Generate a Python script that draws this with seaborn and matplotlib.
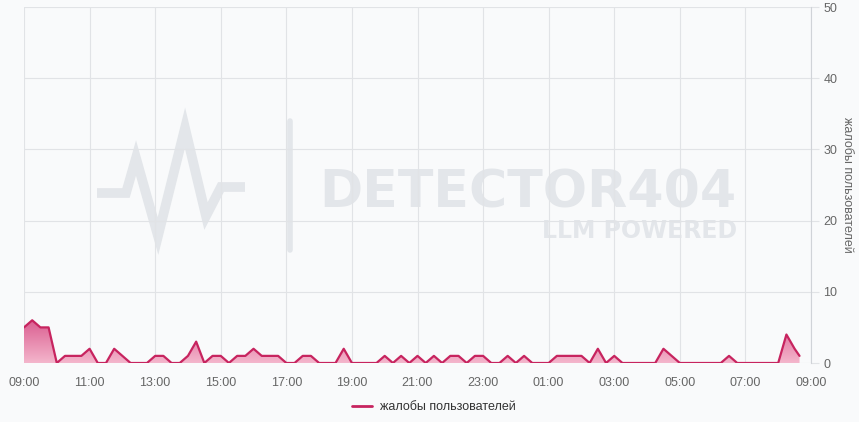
import numpy as np
import pandas as pd
import matplotlib
matplotlib.use("Agg")
import matplotlib.pyplot as plt
from matplotlib.colors import LinearSegmentedColormap
from matplotlib.lines import Line2D
import seaborn as sns

# ---------------- data ----------------
series_name = "жалобы пользователей"
start_time = "2024-01-01 09:00"
last_time = "2024-01-02 08:39"
complaints = [
    5, 6, 5, 5, 0, 1, 1, 1, 2, 0, 0, 2, 1, 0, 0, 0,      # 09:00 - 12:45
    1, 1, 0, 0, 1, 3, 0, 1, 1, 0, 1, 1, 2, 1, 1, 1,      # 13:00 - 16:45
    0, 0, 1, 1, 0, 0, 0, 2, 0, 0, 0, 0, 1, 0, 1, 0,      # 17:00 - 20:45
    1, 0, 1, 0, 1, 1, 0, 1, 1, 0, 0, 1, 0, 1, 0, 0,      # 21:00 - 00:45
    0, 1, 1, 1, 1, 0, 2, 0, 1, 0, 0, 0, 0, 0, 2, 1,      # 01:00 - 04:45
    0, 0, 0, 0, 0, 0, 1, 0, 0, 0, 0, 0, 0, 4, 2,         # 05:00 - 08:30
    1,                                                   # 08:39
]
x_tick_labels = ["09:00", "11:00", "13:00", "15:00", "17:00", "19:00", "21:00",
                 "23:00", "01:00", "03:00", "05:00", "07:00", "09:00"]
y_ticks = [0, 10, 20, 30, 40, 50]

times = list(pd.date_range(start_time, periods=len(complaints) - 1, freq="15min")) + [pd.Timestamp(last_time)]
t0 = pd.Timestamp(start_time)
df = pd.DataFrame({
    "hours": [(t - t0).total_seconds() / 3600 for t in times],
    "value": complaints,
})

# ---------------- style ----------------
BG = "#f9fafb"
GRID = "#e1e3e6"
TXT = "#666666"
LINE = "#c7245f"

sns.set_theme(style="whitegrid")
plt.rcParams["font.family"] = ["Liberation Sans", "DejaVu Sans"]

W, H = 859, 422
fig = plt.figure(figsize=(W / 100, H / 100), dpi=100, facecolor=BG)
ax = fig.add_axes([24 / W, 1 - 363 / H, (811 - 24) / W, (363 - 7) / H])
ax.set_facecolor(BG)
ax.set_axisbelow(True)

# ---------------- watermark (behind grid) ----------------
wm = "#e3e6ea"
zig_x = [97, 126, 136, 158, 185, 206, 221, 245]
zig_y = [193, 193, 158, 236, 128, 216, 187, 187]
ax.add_line(Line2D([x / W for x in zig_x], [1 - y / H for y in zig_y],
                   transform=fig.transFigure, color=wm, lw=7, solid_joinstyle="miter",
                   solid_capstyle="butt", zorder=0.1, clip_on=False))
ax.add_line(Line2D([290 / W, 290 / W], [1 - 121 / H, 1 - 250 / H],
                   transform=fig.transFigure, color=wm, lw=4, zorder=0.1, clip_on=False))
ax.text(737 / W, 1 - 208 / H, "DETECTOR404", ha="right", va="baseline",
        transform=fig.transFigure, fontsize=37.5, fontweight="bold", color=wm,
        family="DejaVu Sans", zorder=0.1)
ax.text(737 / W, 1 - 238 / H, "LLM POWERED", ha="right", va="baseline",
        transform=fig.transFigure, fontsize=17, fontweight="bold", color=wm,
        family="DejaVu Sans", zorder=0.1)

# ---------------- data marks ----------------
sns.lineplot(data=df, x="hours", y="value", ax=ax, color=LINE, linewidth=1.6,
             label=series_name, zorder=4)
poly = ax.fill_between(df["hours"], 0, df["value"], facecolor="none", edgecolor="none")
cmap = LinearSegmentedColormap.from_list("g", ["#f4b6cc", "#d8568b"])
grad = np.linspace(0, 1, 256).reshape(-1, 1)
im = ax.imshow(grad, extent=[0, 24, 0, 6.5], origin="lower", aspect="auto",
               cmap=cmap, zorder=3, interpolation="bilinear")
im.set_clip_path(poly.get_paths()[0], transform=ax.transData)

# ---------------- axes ----------------
ax.set_xlim(0, 24)
ax.set_ylim(0, 50)
ax.set_xticks(range(0, 25, 2))
ax.set_xticklabels(x_tick_labels)
ax.set_yticks(y_ticks)
ax.yaxis.tick_right()
ax.yaxis.set_label_position("right")
ax.set_xlabel("")
ax.set_ylabel(series_name, rotation=270, labelpad=11, color=TXT, fontsize=9)
ax.grid(True, color=GRID, linewidth=0.8)
ax.tick_params(axis="both", colors=TXT, labelsize=9, length=6, width=0.8,
               color=GRID, pad=3)
ax.tick_params(axis="x", pad=4)
for s in ["top", "left", "bottom"]:
    ax.spines[s].set_visible(False)
ax.spines["right"].set_color("#d0d3d8")
ax.spines["right"].set_linewidth(0.8)

ax.get_legend().remove()
fig.legend(handles=[Line2D([], [], color=LINE, lw=2)], labels=[series_name],
           loc="center", bbox_to_anchor=(434 / W, 1 - 407 / H), frameon=False,
           fontsize=9, handlelength=1.6, handletextpad=0.6, labelcolor="#333333")

fig.savefig("out.png", dpi=100, facecolor=BG)
